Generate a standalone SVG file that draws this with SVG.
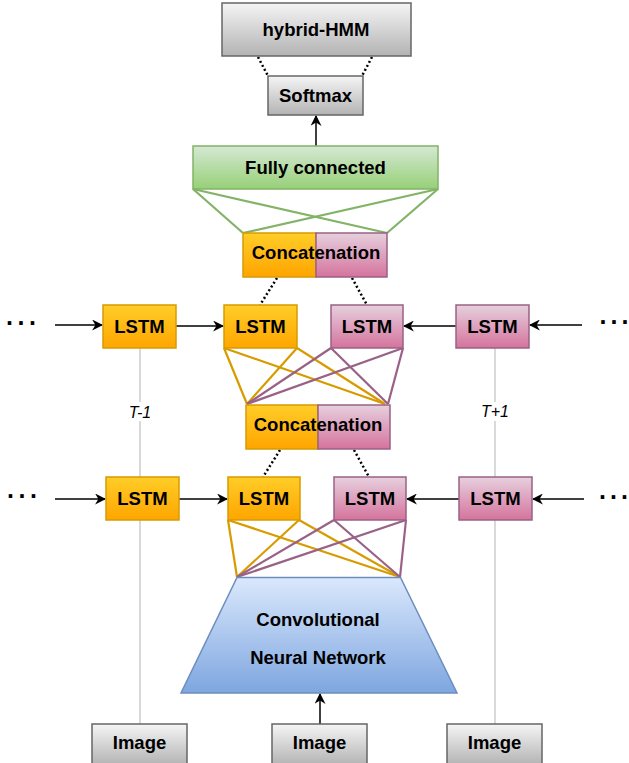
<svg xmlns="http://www.w3.org/2000/svg" width="629" height="763" viewBox="0 0 629 763">
<defs>
<linearGradient id="gGray" x1="0" y1="0" x2="0" y2="1"><stop offset="0" stop-color="#f5f5f5"/><stop offset="1" stop-color="#b3b3b3"/></linearGradient>
<linearGradient id="gOrange" x1="0" y1="0" x2="0" y2="1"><stop offset="0" stop-color="#ffcd28"/><stop offset="1" stop-color="#ffa500"/></linearGradient>
<linearGradient id="gPink" x1="0" y1="0" x2="0" y2="1"><stop offset="0" stop-color="#e6d0de"/><stop offset="1" stop-color="#d5739d"/></linearGradient>
<linearGradient id="gGreen" x1="0" y1="0" x2="0" y2="1"><stop offset="0" stop-color="#d5e8d4"/><stop offset="1" stop-color="#97d077"/></linearGradient>
<linearGradient id="gBlue" x1="0" y1="0" x2="0" y2="1"><stop offset="0" stop-color="#dae8fc"/><stop offset="1" stop-color="#7ea6e0"/></linearGradient>
<marker id="arr" viewBox="0 0 10 10" refX="9" refY="5" markerWidth="11" markerHeight="11" markerUnits="userSpaceOnUse" orient="auto">
<path d="M0,0 L10,5 L0,10 L3,5 Z" fill="#000"/>
</marker>
</defs>
<style>
text{font-family:"Liberation Sans",Arial,sans-serif;font-weight:bold;font-size:18.5px;fill:#000;text-anchor:middle}
.it{font-weight:normal;font-style:italic;font-size:16px}
.dots{font-size:25px;text-anchor:start}
.gray{fill:url(#gGray);stroke:#666;stroke-width:1.5}
.or{fill:url(#gOrange);stroke:#d79b00;stroke-width:1.5}
.pk{fill:url(#gPink);stroke:#996185;stroke-width:1.5}
.gr{fill:url(#gGreen);stroke:#82b366;stroke-width:1.5}
.bl{fill:url(#gBlue);stroke:#6c8ebf;stroke-width:1.5}
.lo{stroke:#d79b00;stroke-width:2.2;fill:none}
.lp{stroke:#996185;stroke-width:2.2;fill:none}
.lg{stroke:#82b366;stroke-width:2.2;fill:none}
.dot{stroke:#000;stroke-width:2.5;stroke-dasharray:2 2.5;fill:none}
.ar{stroke:#000;stroke-width:1.5;fill:none;marker-end:url(#arr)}
.vl{stroke:#cccccc;stroke-width:1.5;fill:none}
</style>
<rect width="629" height="763" fill="#fff"/>
<g id="connectors">
<line class="vl" x1="140" y1="348" x2="140" y2="724"/>
<line class="vl" x1="495" y1="348" x2="495" y2="724"/>
<line class="dot" x1="258" y1="57" x2="268" y2="76"/>
<line class="dot" x1="372" y1="57" x2="362" y2="76"/>
<line class="ar" x1="316" y1="146" x2="316" y2="116"/>
<line class="lg" x1="193" y1="189" x2="243" y2="233"/>
<line class="lg" x1="193" y1="189" x2="387" y2="233"/>
<line class="lg" x1="438" y1="189" x2="243" y2="233"/>
<line class="lg" x1="438" y1="189" x2="387" y2="233"/>
<line class="dot" x1="277" y1="278" x2="260" y2="305"/>
<line class="dot" x1="352" y1="278" x2="367" y2="305"/>
<line class="ar" x1="55" y1="325" x2="102" y2="325"/>
<line class="ar" x1="176" y1="326" x2="223" y2="326"/>
<line class="ar" x1="456" y1="326" x2="404" y2="326"/>
<line class="ar" x1="582" y1="325" x2="530" y2="325"/>
<line class="lo" x1="224" y1="348" x2="247" y2="404"/>
<line class="lo" x1="224" y1="348" x2="385" y2="404"/>
<line class="lo" x1="297" y1="348" x2="247" y2="404"/>
<line class="lo" x1="297" y1="348" x2="385" y2="404"/>
<line class="lp" x1="331" y1="348" x2="247" y2="404"/>
<line class="lp" x1="331" y1="348" x2="388" y2="404"/>
<line class="lp" x1="403" y1="348" x2="247" y2="404"/>
<line class="lp" x1="403" y1="348" x2="388" y2="404"/>
<line class="dot" x1="280" y1="450" x2="263" y2="477"/>
<line class="dot" x1="354" y1="450" x2="369" y2="477"/>
<line class="ar" x1="55" y1="499" x2="105" y2="499"/>
<line class="ar" x1="179" y1="499" x2="227" y2="499"/>
<line class="ar" x1="459" y1="499" x2="407" y2="499"/>
<line class="ar" x1="584" y1="499" x2="533" y2="499"/>
<line class="lo" x1="228" y1="520" x2="237" y2="577"/>
<line class="lo" x1="228" y1="520" x2="400" y2="577"/>
<line class="lo" x1="299" y1="520" x2="237" y2="577"/>
<line class="lo" x1="299" y1="520" x2="400" y2="577"/>
<line class="lp" x1="334" y1="520" x2="237" y2="577"/>
<line class="lp" x1="334" y1="520" x2="400" y2="577"/>
<line class="lp" x1="406" y1="520" x2="237" y2="577"/>
<line class="lp" x1="406" y1="520" x2="400" y2="577"/>
<line class="ar" x1="320" y1="724" x2="320" y2="694"/>
</g>
<g id="label-t-1"><rect x="126" y="402" width="28" height="19" fill="#fff"/><text class="it" x="140" y="418">T-1</text></g>
<g id="label-t+1"><rect x="480" y="402" width="30" height="19" fill="#fff"/><text class="it" x="495" y="417">T+1</text></g>
<g id="dots-l1"><text class="dots" x="6 17.5 29" y="325">...</text></g>
<g id="dots-l2"><text class="dots" x="7 18.5 30" y="498">...</text></g>
<g id="dots-r1"><text class="dots" x="599.5 610.5 621.5" y="324">...</text></g>
<g id="dots-r2"><text class="dots" x="599 610 621" y="499">...</text></g>
<g id="hybrid-hmm"><rect class="gray" x="222" y="3" width="189" height="53"/><text x="316" y="35.5">hybrid-HMM</text></g>
<g id="softmax"><rect class="gray" x="268" y="76" width="95" height="39"/><text x="315.5" y="101.5">Softmax</text></g>
<g id="fully-connected"><rect class="gr" x="193" y="146" width="245" height="43"/><text x="315.5" y="173.5">Fully connected</text></g>
<g id="concat1"><rect class="or" x="243" y="233" width="73" height="44"/><rect class="pk" x="316" y="233" width="71" height="44"/><text x="316" y="258.5">Concatenation</text></g>
<g id="lstm1-left"><rect class="or" x="103" y="305" width="73" height="43"/><text x="139.5" y="333">LSTM</text></g>
<g id="lstm1-fwd"><rect class="or" x="224" y="305" width="73" height="43"/><text x="260.5" y="333">LSTM</text></g>
<g id="lstm1-bwd"><rect class="pk" x="331" y="305" width="72" height="43"/><text x="367" y="333">LSTM</text></g>
<g id="lstm1-right"><rect class="pk" x="456" y="305" width="73" height="43"/><text x="492.5" y="333">LSTM</text></g>
<g id="concat2"><rect class="or" x="246" y="405" width="72" height="44"/><rect class="pk" x="318" y="405" width="72" height="44"/><text x="318" y="431">Concatenation</text></g>
<g id="lstm2-left"><rect class="or" x="106" y="477" width="73" height="43"/><text x="142.5" y="505">LSTM</text></g>
<g id="lstm2-fwd"><rect class="or" x="228" y="477" width="72" height="43"/><text x="264" y="505">LSTM</text></g>
<g id="lstm2-bwd"><rect class="pk" x="334" y="477" width="72" height="43"/><text x="370" y="505">LSTM</text></g>
<g id="lstm2-right"><rect class="pk" x="459" y="477" width="73" height="43"/><text x="495.5" y="505">LSTM</text></g>
<g id="cnn"><polygon class="bl" points="237,577.5 400.5,577.5 457,693 181,693"/><text x="318" y="626">Convolutional</text><text x="318" y="663.5">Neural Network</text></g>
<g id="image-left"><rect class="gray" x="92" y="724" width="95" height="41"/><text x="139.5" y="749">Image</text></g>
<g id="image-mid"><rect class="gray" x="272" y="724" width="95" height="41"/><text x="319.5" y="749">Image</text></g>
<g id="image-right"><rect class="gray" x="447" y="724" width="95" height="41"/><text x="494.5" y="749">Image</text></g>
</svg>
